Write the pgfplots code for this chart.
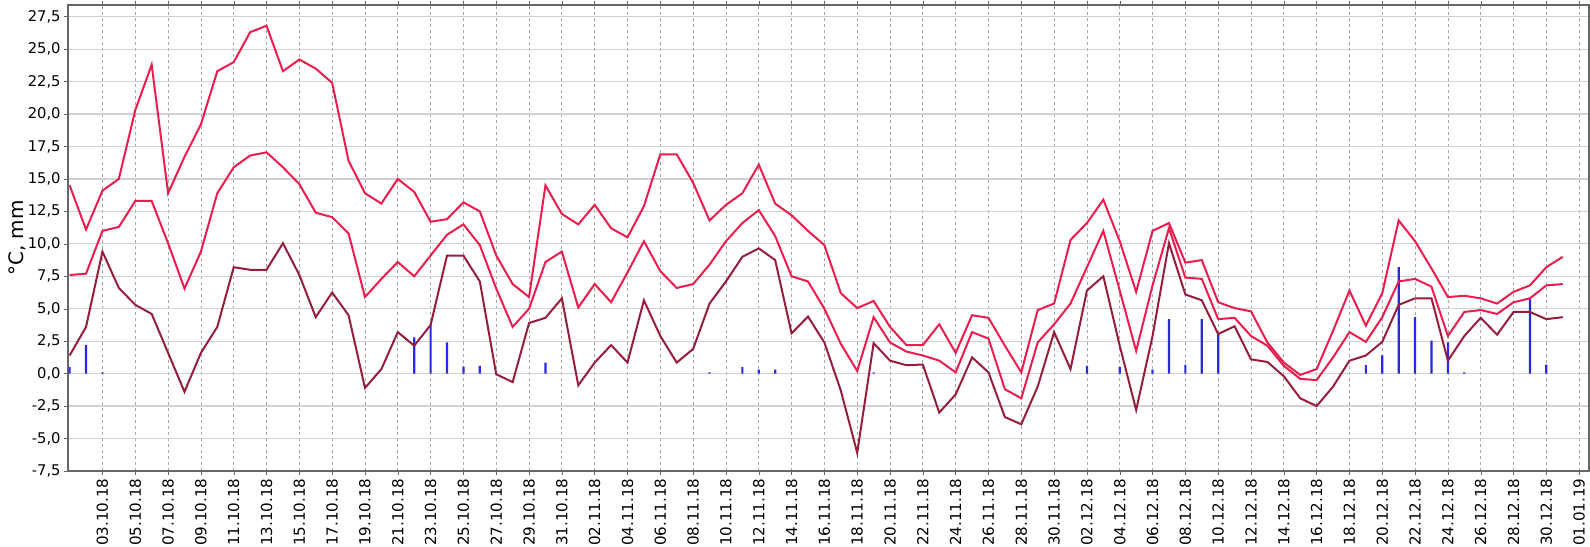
\documentclass[border=0pt]{standalone}
\usepackage{fontspec}
\setmainfont{DejaVu Sans}
\usepackage{pgfplots}
\usepackage{pgfplotstable}
\pgfplotsset{compat=1.18}

\definecolor{tred}{RGB}{236,28,76}
\definecolor{tdark}{RGB}{150,30,60}
\definecolor{rainblue}{RGB}{40,40,230}

% d = days since 01.10.18
\pgfplotstableread{
d tmax tmean tmin
0 14.5 7.6 1.4
1 11.1 7.7 3.6
2 14.1 11.0 9.4
3 15.0 11.3 6.6
4 20.3 13.3 5.3
5 23.8 13.3 4.6
6 13.9 10.05 1.6
7 16.7 6.55 -1.4
8 19.2 9.4 1.6
9 23.3 13.9 3.6
10 24.0 15.9 8.2
11 26.3 16.8 8.0
12 26.8 17.05 8.0
13 23.3 15.9 10.05
14 24.2 14.6 7.6
15 23.5 12.4 4.35
16 22.4 12.05 6.25
17 16.4 10.8 4.5
18 13.9 5.9 -1.1
19 13.1 7.3 0.35
20 15.0 8.6 3.2
21 14.0 7.5 2.15
22 11.7 9.1 3.75
23 11.9 10.7 9.1
24 13.2 11.5 9.1
25 12.5 9.9 7.1
26 9.1 6.55 -0.05
27 6.9 3.6 -0.65
28 5.9 5.0 3.9
29 14.5 8.6 4.3
30 12.3 9.4 5.8
31 11.5 5.1 -0.9
32 13.0 6.9 0.85
33 11.2 5.5 2.2
34 10.5 7.8 0.85
35 12.9 10.2 5.65
36 16.9 7.9 2.9
37 16.9 6.6 0.85
38 14.7 6.9 1.9
39 11.8 8.4 5.4
40 13.0 10.2 7.1
41 13.9 11.6 9.0
42 16.1 12.6 9.65
43 13.1 10.6 8.75
44 12.2 7.5 3.1
45 11.0 7.1 4.4
46 9.9 5.0 2.4
47 6.2 2.3 -1.3
48 5.05 0.2 -6.1
49 5.6 4.35 2.35
50 3.6 2.4 1.0
51 2.2 1.7 0.65
52 2.2 1.4 0.7
53 3.8 1.0 -3.0
54 1.6 0.1 -1.6
55 4.5 3.2 1.25
56 4.3 2.7 0.1
57 2.15 -1.2 -3.35
58 0.1 -1.9 -3.9
59 4.9 2.4 -1.0
60 5.4 3.8 3.2
61 10.3 5.4 0.35
62 11.6 8.2 6.4
63 13.4 11.0 7.5
64 10.2 6.4 2.15
65 6.3 1.75 -2.8
66 11.0 6.8 2.9
67 11.6 11.2 10.05
68 8.55 7.4 6.1
69 8.75 7.3 5.65
70 5.5 4.2 3.05
71 5.05 4.3 3.65
72 4.8 2.9 1.1
73 2.4 2.15 0.9
74 0.85 0.6 -0.2
75 -0.1 -0.4 -1.9
76 0.35 -0.5 -2.5
77 3.3 1.25 -1.0
78 6.4 3.2 1.0
79 3.7 2.45 1.4
80 6.2 4.35 2.45
81 11.8 7.1 5.3
82 10.2 7.3 5.8
83 8.1 6.7 5.8
84 5.9 2.9 1.0
85 6.0 4.75 2.9
86 5.8 4.9 4.3
87 5.4 4.6 3.0
88 6.3 5.5 4.75
89 6.8 5.8 4.75
90 8.2 6.8 4.2
91 9.0 6.9 4.35
}\temps

% precipitation, mm (days with rain only)
\pgfplotstableread{
d p
0 0.5
1 2.2
2 0.1
21 2.8
22 3.8
23 2.4
24 0.55
25 0.6
29 0.85
39 0.1
41 0.5
42 0.3
43 0.3
49 0.1
62 0.6
64 0.5
66 0.3
67 4.2
68 0.7
69 4.2
70 3.05
79 0.65
80 1.4
81 8.2
82 4.35
83 2.55
84 2.4
85 0.1
89 5.8
90 0.7
}\rain

\begin{document}
\begin{tikzpicture}
\begin{axis}[
    name=ax,
    scale only axis,
    width=760.5bp, height=233bp,
    xmin=-0.1, xmax=92.6,
    ymin=-7.5, ymax=28.4,
    ytick={-7.5,-5,...,27.5},
    xtick={2,4,...,92},
    xticklabels={03.10.18,05.10.18,07.10.18,09.10.18,11.10.18,13.10.18,15.10.18,17.10.18,
      19.10.18,21.10.18,23.10.18,25.10.18,27.10.18,29.10.18,31.10.18,02.11.18,04.11.18,
      06.11.18,08.11.18,10.11.18,12.11.18,14.11.18,16.11.18,18.11.18,20.11.18,22.11.18,
      24.11.18,26.11.18,28.11.18,30.11.18,02.12.18,04.12.18,06.12.18,08.12.18,10.12.18,
      12.12.18,14.12.18,16.12.18,18.12.18,20.12.18,22.12.18,24.12.18,26.12.18,28.12.18,
      30.12.18,01.01.19},
    xticklabel style={rotate=90, anchor=east, font=\fontsize{7.6}{8}\selectfont, inner sep=1.5bp},
    yticklabel style={font=\fontsize{7.4}{8}\selectfont, inner sep=1.5bp},
    /pgf/number format/.cd, use comma, fixed, fixed zerofill, precision=1, assume math mode=true,
    /pgfplots/.cd,
    ylabel={°C, mm},
    ylabel style={at={(axis description cs:-0.0335,0.5)}, anchor=center,
      font=\fontsize{10}{11}\selectfont},
    xmajorgrids, ymajorgrids,
    x grid style={gray!70, dash pattern=on 1.5bp off 1.5bp, line width=0.4bp},
    y grid style={gray!35, line width=0.6bp},
    axis line style={gray!80!black, line width=0.6bp},
    tick style={gray!80!black},
    major tick length=2bp,
    tick align=outside,
]
\addplot[ybar, bar width=1.1bp, fill=rainblue, draw=none] table[x=d, y=p] {\rain};
\addplot[tdark, line width=1bp] table[x=d, y=tmin] {\temps};
\addplot[tred, line width=1bp] table[x=d, y=tmean] {\temps};
\addplot[tred, line width=1bp] table[x=d, y=tmax] {\temps};
\end{axis}
\pgfresetboundingbox
\path[use as bounding box] ([shift={(-34bp,-38bp)}]ax.south west) rectangle ([shift={(0.5bp,2.5bp)}]ax.north east);
\end{tikzpicture}
\end{document}
